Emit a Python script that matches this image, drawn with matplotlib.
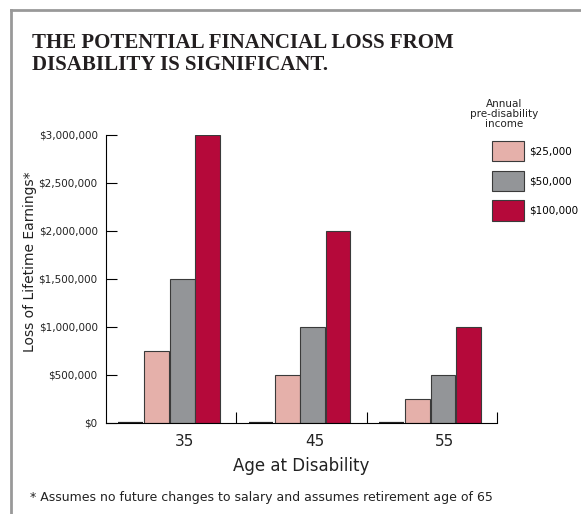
import matplotlib.pyplot as plt
from matplotlib.lines import Line2D
from matplotlib.patches import Patch
from matplotlib.ticker import FuncFormatter

# Data
ages = ['35', '45', '55']
incomes = ['$25,000', '$50,000', '$100,000']
loss_25k = [750000, 500000, 250000]
loss_50k = [1500000, 1000000, 500000]
loss_100k = [3000000, 2000000, 1000000]
baseline = [0, 0, 0]
colors = ['#E5B0AA', '#939598', '#B5093A']

W, H = 581, 514
fig = plt.figure(figsize=(W / 100, H / 100), dpi=100)
ax = fig.add_axes([106 / W, 1 - 423 / H, (497 - 106) / W, (423 - 135) / H])

width = 0.19
groups = range(len(ages))
ax.bar([g + 0.19 for g in groups], baseline, width, color='none',
       edgecolor='#222222', linewidth=1.6)
for off, vals, c, lab in zip([0.39, 0.585, 0.78], [loss_25k, loss_50k, loss_100k],
                             colors, incomes):
    ax.bar([g + off for g in groups], vals, width, color=c,
           edgecolor='#3a3a3a', linewidth=0.8, label=lab)

ax.set_xlim(0, 3)
ax.set_ylim(0, 3000000)
ax.set_xticks([1, 2, 3])
ax.set_xticklabels([])
ax.set_xticks([g + 0.6 for g in groups], ages, minor=True)
ax.tick_params(axis='x', which='major', direction='in', length=8, width=0.8)
ax.tick_params(axis='x', which='minor', length=0, labelsize=11, pad=8,
               labelcolor='#222222')
ax.set_yticks(range(0, 3000001, 500000))
ax.yaxis.set_major_formatter(FuncFormatter(lambda v, p: f'${v:,.0f}'))
ax.tick_params(axis='y', direction='in', length=8, width=0.8, labelsize=7.5,
               labelcolor='#222222', pad=6)
for s in ['top', 'right']:
    ax.spines[s].set_visible(False)
for s in ['left', 'bottom']:
    ax.spines[s].set_linewidth(0.8)

ax.set_xlabel('Age at Disability', fontsize=12, labelpad=6, color='#222222')
fig.text(30 / W, 1 - 262 / H, 'Loss of Lifetime Earnings*', rotation=90,
         fontsize=10, ha='center', va='center', color='#222222')

# legend
handles = [Patch(facecolor=c, edgecolor='#3a3a3a', linewidth=0.8) for c in colors]
fig.legend(handles, incomes, loc='upper left',
           bbox_to_anchor=(484 / W, 1 - 133 / H),
           frameon=False, fontsize=7.5, handlelength=3.0, handleheight=2.6,
           labelspacing=0.9, handletextpad=0.5, borderpad=0.3)
fig.text(504 / W, 1 - 99 / H, 'Annual\npre-disability\nincome', fontsize=7.5,
         ha='center', va='top', multialignment='center', linespacing=1.0,
         color='#222222')

fig.text(32 / W, 1 - 33 / H, 'THE POTENTIAL FINANCIAL LOSS FROM\nDISABILITY IS SIGNIFICANT.',
         family='Liberation Serif', weight='bold', fontsize=15, va='top',
         color='#231F20', linespacing=1.1)
fig.text(30 / W, 1 - 497 / H,
         '* Assumes no future changes to salary and assumes retirement age of 65',
         fontsize=9, va='center', color='#222222')

# page frame
fig.add_artist(Line2D([11 / W, 1], [1 - 10 / H, 1 - 10 / H], color='#999999', lw=2))
fig.add_artist(Line2D([11 / W, 11 / W], [0, 1 - 10 / H], color='#999999', lw=2))

fig.savefig('out.png', dpi=100)
